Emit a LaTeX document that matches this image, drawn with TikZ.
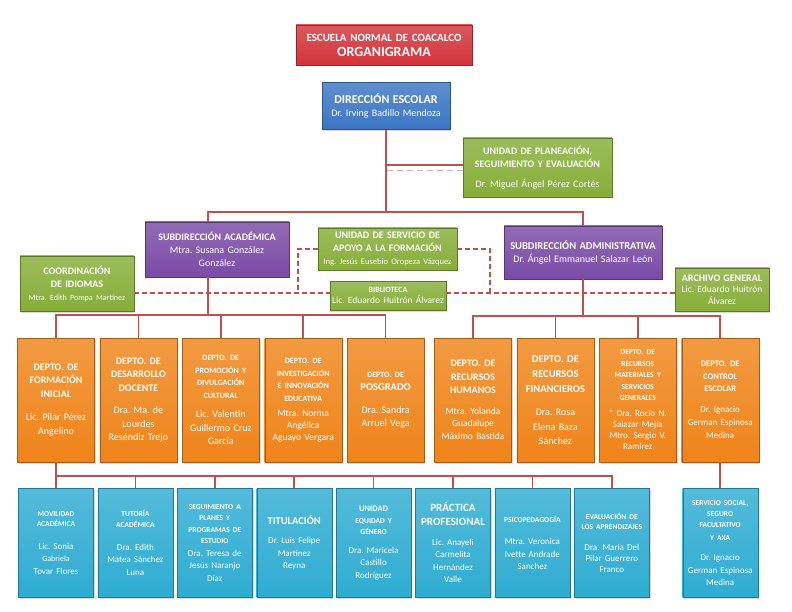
\documentclass[tikz,border=0pt]{standalone}
\usepackage{fontspec}
\setmainfont{Carlito}
\frenchspacing
\usetikzlibrary{positioning,shadows}
\definecolor{linkred}{HTML}{C0504D}
\definecolor{tred}{HTML}{D3343B}
\definecolor{dblue}{HTML}{3B76C4}
\definecolor{ugreen}{HTML}{86AE38}
\definecolor{spurple}{HTML}{7A4BA6}
\definecolor{dorange}{HTML}{EF8419}
\definecolor{acyan}{HTML}{2EACD2}
\tikzset{box/.style={rectangle,draw=#1!70!black,top color=#1!82!white,bottom color=#1,text=white,align=center,inner sep=1pt,
	 drop shadow={opacity=0.3,shadow xshift=1.2pt,shadow yshift=-1.5pt},font=\fontsize{10}{13}\selectfont},
	 link/.style={draw=linkred,line width=1.6pt},
	 dashlink/.style={draw=linkred,line width=1.4pt,dash pattern=on 5pt off 3pt},
	 depto/.style={box=dorange,minimum width=77pt,minimum height=124pt,text width=75pt,font=\fontsize{10}{13.5}\selectfont},
	 area/.style={box=acyan,minimum width=75pt,minimum height=109pt,text width=73pt,font=\fontsize{9}{12.5}\selectfont},
	 node distance = 5pt
	 }

\begin{document}
\begin{tikzpicture}[x=1pt,y=-1pt] % organigrama
        \useasboundingbox (0,0) rectangle (792,612);
        \node[box=tred,minimum width=176pt,minimum height=40pt,text width=172pt,font=\fontsize{11}{15}\selectfont\bfseries] (tit) at (384,45) {ESCUELA NORMAL DE COACALCO\\{\fontsize{14}{15}\selectfont ORGANIGRAMA}};
        \node[box=dblue,minimum width=128pt,minimum height=47pt,text width=126pt] (dir) at (386,106) {{\fontsize{12}{14}\selectfont\bfseries DIRECCIÓN ESCOLAR}\\Dr. Irving Badillo Mendoza};
        \node[box=ugreen,minimum width=149pt,minimum height=59pt,text width=147pt] (pla) at (537.5,167.5) {{\bfseries UNIDAD DE PLANEACIÓN,\\SEGUIMIENTO Y EVALUACIÓN}\\[7pt]Dr. Miguel Ángel Pérez Cortés};
        \node[box=spurple,minimum width=144pt,minimum height=55pt,text width=142pt] (sac) at (217,249.5) {{\bfseries SUBDIRECCIÓN ACADÉMICA}\\Mtra. Susana González\\González};
        \node[box=spurple,minimum width=158pt,minimum height=53pt,text width=156pt] (sad) at (583,252.5) {{\fontsize{10.5}{13}\selectfont\bfseries SUBDIRECCIÓN ADMINISTRATIVA}\\Dr. Ángel Emmanuel Salazar León};
        \node[box=ugreen,minimum width=139pt,minimum height=42pt,text width=137pt] (apo) at (387.5,249) {{\bfseries UNIDAD DE SERVICIO DE\\APOYO A LA FORMACIÓN}\\{\fontsize{8.5}{10}\selectfont Ing. Jesús Eusebio Oropeza Vázquez}};
        \node[box=ugreen,minimum width=116pt,minimum height=29pt,text width=114pt,font=\fontsize{9.5}{11}\selectfont] (bib) at (388,295.5) {{\fontsize{8}{10}\selectfont\bfseries BIBLIOTECA}\\Lic. Eduardo Huitrón Álvarez};
        \node[box=ugreen,minimum width=114pt,minimum height=55pt,text width=112pt] (idi) at (77,283.5) {{\bfseries COORDINACIÓN\\DE IDIOMAS}\\{\fontsize{8}{10}\selectfont Mtra. Edith Pompa Martínez}};
        \node[box=ugreen,minimum width=94pt,minimum height=43pt,text width=92pt,font=\fontsize{9.5}{11.5}\selectfont] (arc) at (722,289.5) {{\fontsize{10}{11.5}\selectfont\bfseries ARCHIVO GENERAL}\\Lic. Eduardo Huitrón\\Álvarez};
        % departamentos
        \node[depto] (d1) at (56,400) {{\bfseries DEPTO. DE\\FORMACIÓN\\INICIAL}\\[10pt]Lic. Pilar Pérez\\Angelino};
        \node[depto] (d2) [right=of d1] {{\bfseries DEPTO. DE\\DESARROLLO\\DOCENTE}\\[9pt]Dra. Ma. de\\Lourdes\\Reséndiz Trejo};
        \node[depto] (d3) [right=of d2] {{\fontsize{8}{12.5}\selectfont\bfseries DEPTO. DE\\PROMOCIÓN Y\\DIVULGACIÓN\\CULTURAL\par}\vspace{6pt}Lic. Valentín\\Guillermo Cruz\\García};
        \node[depto] (d4) [right=of d3] {{\fontsize{8}{12.5}\selectfont\bfseries DEPTO. DE\\INVESTIGACIÓN\\E INNOVACIÓN\\EDUCATIVA\par}\vspace{3pt}{\fontsize{9.5}{12}\selectfont Mtra. Norma\\Angélica\\Aguayo Vergara\par}};
        \node[depto] (d5) [right=of d4] {{\fontsize{8}{10}\selectfont\bfseries DEPTO. DE}\\{\fontsize{10.5}{12}\selectfont\bfseries POSGRADO}\\[9pt]Dra. Sandra\\Arruel Vega};
        \node[depto] (d6) [right=10pt of d5] {{\bfseries DEPTO. DE\\RECURSOS\\HUMANOS\par}\vspace{8pt}{\fontsize{9.5}{12.5}\selectfont Mtra. Yolanda\\Guadalupe\\Máximo Bastida\par}};
        \node[depto] (d7) [right=of d6] {{\fontsize{10.5}{15}\selectfont\bfseries DEPTO. DE\\RECURSOS\\FINANCIEROS\par}\vspace{9pt}{\fontsize{10}{14.5}\selectfont Dra. Rosa\\Elena Baza\\Sánchez\par}};
        \node[depto] (d8) [right=of d7] {{\fontsize{7.5}{11.5}\selectfont\bfseries DEPTO. DE\\RECURSOS\\MATERIALES Y\\SERVICIOS\\GENERALES\par}\vspace{5pt}{\fontsize{9}{11}\selectfont * Dra. Rocío N.\\Salazar Mejía\\* Mtro. Sergio V.\\Ramírez\par}};
        \node[depto] (d9) [right=of d8] {{\fontsize{8.5}{12.5}\selectfont\bfseries DEPTO. DE\\CONTROL\\ESCOLAR\par}\vspace{8pt}{\fontsize{9}{13}\selectfont Dr. Ignacio\\German Espinosa\\Medina\par}};
        % areas
        \node[area] (b1) [below=26pt of d1] {{\fontsize{7.5}{10.5}\selectfont\bfseries MOVILIDAD\\ACADÉMICA\par}\vspace{10pt}Lic. Sonia\\{\fontsize{8}{10}\selectfont Gabriela}\\Tovar Flores};
        \node[area] (b2) [right=4pt of b1] {{\fontsize{7.5}{11}\selectfont\bfseries TUTORÍA\\ACADÉMICA\par}\vspace{10pt}Dra. Edith\\Matea Sánchez\\Luna};
        \node[area] (b3) [right=4pt of b2] {{\fontsize{7.5}{11.5}\selectfont\bfseries SEGUIMIENTO A\\PLANES Y\\PROGRAMAS DE\\ESTUDIO\par}\vspace{0pt}Dra. Teresa de\\Jesús Naranjo\\Díaz};
        \node[area] (b4) [right=4pt of b3] {{\fontsize{10.5}{12}\selectfont\bfseries TITULACIÓN}\\[7pt]Dr. Luis Felipe\\Martínez\\Reyna};
        \node[area] (b5) [right=4pt of b4] {{\fontsize{8.5}{11.5}\selectfont\bfseries UNIDAD\\{\fontsize{7.5}{11.5}\selectfont EQUIDAD Y\\GÉNERO}\par}\vspace{6pt}Dra. Maricela\\Castillo\\Rodríguez};
        \node[area] (b6) [right=4pt of b5] {{\fontsize{11}{14}\selectfont\bfseries PRÁCTICA\\PROFESIONAL\par}\vspace{7pt}Lic. Anayeli\\Carmelita\\Hernández\\Valle};
        \node[area] (b7) [right=4pt of b6] {{\fontsize{7.5}{10}\selectfont\bfseries PSICOPEDAGOGÍA}\\[10pt]Mtra. Veronica\\Ivette Andrade\\Sanchez};
        \node[area] (b8) [right=4pt of b7] {{\fontsize{7.5}{10.5}\selectfont\bfseries EVALUACIÓN DE\\LOS APRENDIZAJES\par}\vspace{10pt}{\fontsize{9}{11}\selectfont Dra. María Del\\Pilar Guerrero\\Franco\par}};
        \node[area] (b9) [below=26pt of d9] {{\fontsize{7.5}{11}\selectfont\bfseries SERVICIO SOCIAL,\\SEGURO\\FACULTATIVO\\[2pt]Y AXA\par}\vspace{8pt}Dr. Ignacio\\German Espinosa\\Medina};
        % lineas
        \coordinate (bus0) at (386,212);
        \coordinate (busA) at (208,315);
        \coordinate (busB) at (583,316);
        \coordinate (busC) at (56,476);
        \coordinate (dl) at (298,293);
        \coordinate (dr) at (490,293);
        \draw[link] (dir.south) -- (bus0);
        \draw[gray!55,line width=1.2pt,dash pattern=on 6pt off 4pt] ([yshift=-3pt]pla.west) -- ([yshift=-3pt]pla.west -| dir.south);
        \draw[link] ([yshift=2.5pt]pla.west) -- ([yshift=2.5pt]pla.west -| dir.south);
        \draw[link] ([xshift=-9pt]sac.north) |- (bus0) -| (sad.north);
        \draw[link] ([xshift=-9pt]sac.south) -- (busA);
        \draw[link] (sad.south) -- (busB);
        \foreach \d in {d1,d2,d3,d4,d5} \draw[link] (\d.north) |- (busA);
        \foreach \d in {d6,d7,d8,d9} \draw[link] (\d.north) |- (busB);
        \draw[link] (d1.south) -- (busC);
        \foreach \b in {b1,b2,b3,b4,b5,b6,b7,b8} \draw[link] (\b.north) |- (busC);
        \draw[link] (d9.south) -- (b9.north);
        \draw[dashlink] (idi.east |- dl) -- (bib.west |- dl);
        \draw[dashlink] (apo.west) -| (dl);
        \draw[dashlink] (apo.east) -| (dr);
        \draw[dashlink] (bib.east |- dr) -- (arc.west |- dr);
\end{tikzpicture}
\end{document}
